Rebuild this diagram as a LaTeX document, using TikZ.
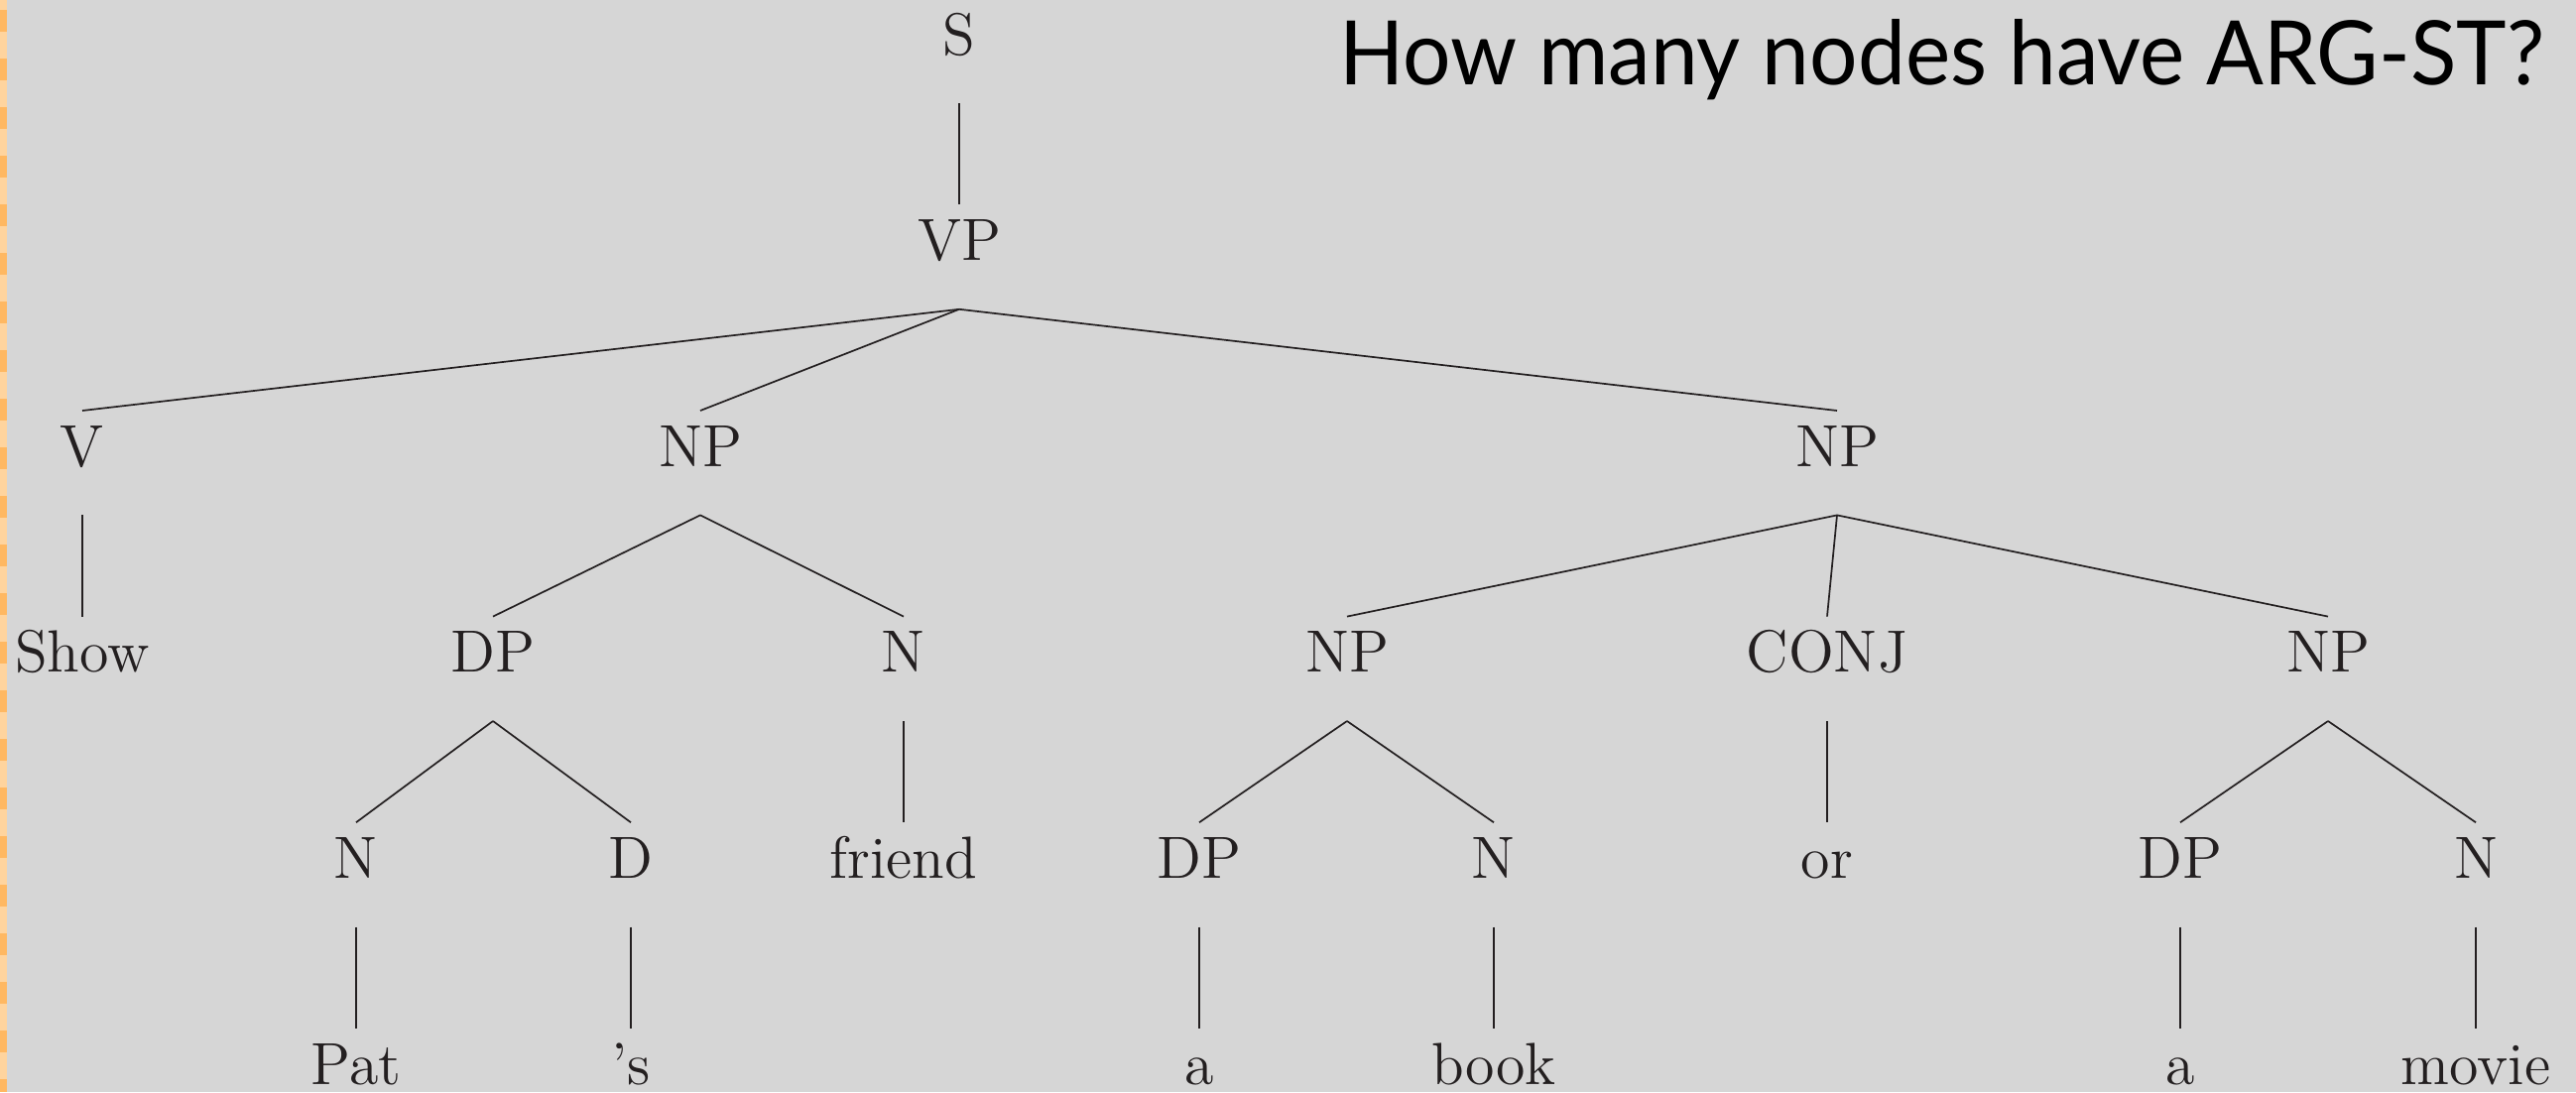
\documentclass[tikz,border=0pt]{standalone}
\usepackage{fontspec}
\newfontfamily\treefont{lmroman12-regular}[Extension=.otf]
\newfontfamily\titlefont{Lato}
\definecolor{bggray}{HTML}{D6D6D6}
\definecolor{stripA}{HTML}{FFD49E}
\definecolor{stripB}{HTML}{FFB862}
\definecolor{inkc}{HTML}{231F20}
\begin{document}
\begin{tikzpicture}[x=1pt,y=-1pt,
  lbl/.style={anchor=base,inner sep=0pt,text height=56pt,text depth=49pt,
    font=\treefont\fontsize{60}{72}\selectfont,text=inkc},
  edge/.style={draw=inkc,line width=1.7pt}]
\fill[bggray] (0,0) rectangle (2597,1101);
\useasboundingbox (0,0) rectangle (2597,1101);
\fill[stripA] (0,0) rectangle (7,1101);
\draw[stripB,line width=7pt,dash pattern=on 22pt off 27pt] (3.5,10) -- (3.5,1101);
% title
\node[anchor=base west,inner sep=0pt,text=black] (title) at (1350,85)
  {\resizebox{1214pt}{66pt}{\titlefont How many nodes have ARG-ST?}};
% row 0
\node[lbl] (S) at (967,55) {S};
% row 1
\node[lbl] (VP) at (967,262.6) {VP};
% row 2
\node[lbl] (V) at (83,470.2) {V};
\node[lbl] (NPa) at (706,470.2) {NP};
\node[lbl] (NPb) at (1852,470.2) {NP};
% row 3
\node[lbl] (Show) at (83,677.8) {Show};
\node[lbl] (DPa) at (497,677.8) {DP};
\node[lbl] (Na) at (911,677.8) {N};
\node[lbl] (NPc) at (1358,677.8) {NP};
\node[lbl] (CONJ) at (1842,677.8) {CONJ};
\node[lbl] (NPd) at (2347,677.8) {NP};
% row 4
\node[lbl] (Nb) at (359,885.4) {N};
\node[lbl] (D) at (636,885.4) {D};
\node[lbl] (friend) at (911,885.4) {friend};
\node[lbl] (DPb) at (1209,885.4) {DP};
\node[lbl] (Nc) at (1506,885.4) {N};
\node[lbl] (or) at (1842,885.4) {or};
\node[lbl] (DPc) at (2198,885.4) {DP};
\node[lbl] (Nd) at (2496,885.4) {N};
% row 5
\node[lbl] (Pat) at (359,1093) {Pat};
\node[lbl] (apos) at (636,1093) {’s};
\node[lbl] (a1) at (1209,1093) {a};
\node[lbl] (book) at (1506,1093) {book};
\node[lbl] (a2) at (2198,1093) {a};
\node[lbl] (movie) at (2496,1093) {movie};
% edges
\foreach \p/\c in {S/VP, VP/V, VP/NPa, VP/NPb, V/Show, NPa/DPa, NPa/Na,
  DPa/Nb, DPa/D, Nb/Pat, D/apos, Na/friend, NPb/NPc, NPb/CONJ, NPb/NPd,
  NPc/DPb, NPc/Nc, DPb/a1, Nc/book, CONJ/or, NPd/DPc, NPd/Nd, DPc/a2, Nd/movie}
  \draw[edge] (\p.south) -- (\c.north);
\end{tikzpicture}
\end{document}
